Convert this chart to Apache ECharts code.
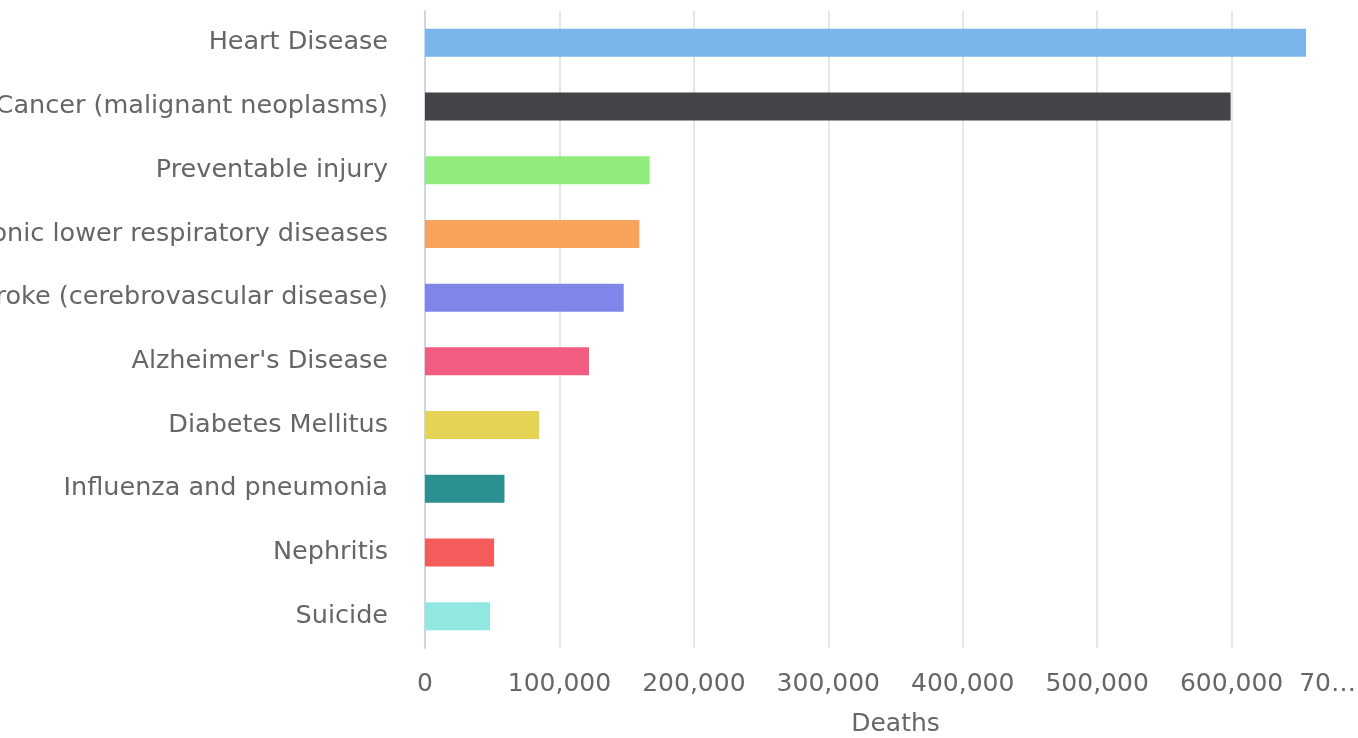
<!DOCTYPE html>
<html>
<head>
<meta charset="utf-8">
<script src="https://cdn.jsdelivr.net/npm/echarts@6/dist/echarts.min.js"></script>
<style>
html,body{margin:0;padding:0;background:#fff;}
#chart{width:1358px;height:738px;}
</style>
</head>
<body>
<div id="chart"></div>
<script>
const categories = [
  "Heart Disease",
  "Cancer (malignant neoplasms)",
  "Preventable injury",
  "Chronic lower respiratory diseases",
  "Stroke (cerebrovascular disease)",
  "Alzheimer's Disease",
  "Diabetes Mellitus",
  "Influenza and pneumonia",
  "Nephritis",
  "Suicide"
];
const deaths = [655381, 599274, 167127, 159486, 147810, 122019, 84946, 59120, 51386, 48344];
const barColors = ["#7cb5ec", "#434348", "#90ed7d", "#f7a35c", "#8085e9", "#f15c80", "#e4d354", "#2b908f", "#f45b5b", "#91e8e1"];
const xTickValues = [0, 100000, 200000, 300000, 400000, 500000, 600000, 700000];
const xTickLabels = ["0", "100,000", "200,000", "300,000", "400,000", "500,000", "600,000", "700,000"];
const axisTitle = "Deaths";

const chart = echarts.init(document.getElementById('chart'), null, {renderer: 'canvas'});
const font = "'DejaVu Sans', Verdana, sans-serif";
const xMin = xTickValues[0], xMax = xTickValues[xTickValues.length - 1], xStep = xTickValues[1] - xTickValues[0];
function tickLabel(v) {
  const i = xTickValues.indexOf(v);
  return i >= 0 ? xTickLabels[i] : String(v);
}
chart.setOption({
  animation: false,
  grid: {left: 425, top: 11, bottom: 90, width: 941, containLabel: false, outerBoundsMode: 'none'},
  xAxis: [{
    type: 'value',
    min: xMin, max: xMax, interval: xStep,
    name: axisTitle,
    nameLocation: 'middle',
    nameGap: 64,
    nameTextStyle: {color: '#666', fontSize: 25, fontFamily: font},
    axisLine: {show: false},
    axisTick: {show: false},
    splitLine: {show: true, lineStyle: {color: '#e6e6e6', width: 2}},
    axisLabel: {
      color: '#666', fontSize: 25, fontFamily: font, margin: 24,
      showMaxLabel: false,
      hideOverlap: false,
      formatter: function (v) { return v === xMax ? '' : tickLabel(v); }
    }
  }, {
    type: 'value',
    position: 'bottom',
    min: xMin, max: xMax, interval: xStep,
    axisLine: {show: false},
    axisTick: {show: false},
    splitLine: {show: false},
    axisLabel: {
      color: '#666', fontSize: 25, fontFamily: font, margin: 24,
      showMinLabel: false,
      showMaxLabel: true,
      align: 'right',
      width: 70,
      overflow: 'truncate',
      ellipsis: '…',
      padding: [0, 10, 0, 0],
      formatter: function (v) { return v === xMax ? tickLabel(v) : ''; }
    }
  }],
  yAxis: {
    type: 'category',
    data: categories,
    inverse: true,
    axisLine: {show: true, lineStyle: {color: '#ccd6eb', width: 2}},
    axisTick: {show: false},
    splitLine: {show: false},
    axisLabel: {color: '#666', fontSize: 25.5, fontFamily: font, margin: 37}
  },
  series: [{
    type: 'bar',
    xAxisIndex: 0,
    barWidth: '44%',
    data: deaths.map((v, i) => ({value: v, itemStyle: {color: barColors[i]}}))
  }]
});
</script>
</body>
</html>
